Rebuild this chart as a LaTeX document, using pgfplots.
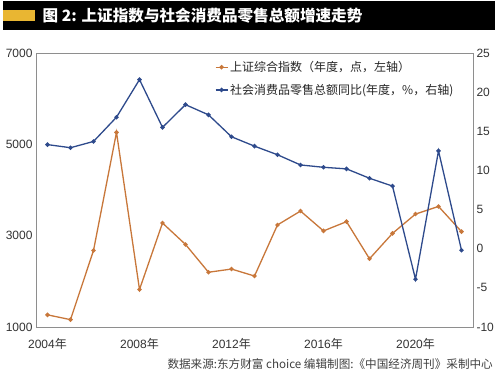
\documentclass[border=0pt]{standalone}
\usepackage{fontspec}
\setmainfont{Liberation Sans}
\newfontfamily\cjk{Noto Sans CJK SC}
\usepackage{pgfplots}
\usepackage{pgfplotstable}
\pgfplotsset{compat=1.18}
\definecolor{corange}{HTML}{C8773A}
\definecolor{cblue}{HTML}{2E4A8C}
\definecolor{axgray}{HTML}{8E8E8E}
\definecolor{cgold}{HTML}{E9B632}

\pgfplotstableread{
year idx
2004 1266
2005 1161
2006 2675
2007 5262
2008 1821
2009 3277
2010 2808
2011 2199
2012 2269
2013 2116
2014 3235
2015 3539
2016 3104
2017 3307
2018 2494
2019 3050
2020 3473
2021 3640
2022 3089
}\shdata

\pgfplotstableread{
year gr
2004 13.3
2005 12.9
2006 13.7
2007 16.8
2008 21.6
2009 15.5
2010 18.4
2011 17.1
2012 14.3
2013 13.1
2014 12.0
2015 10.7
2016 10.4
2017 10.2
2018 9.0
2019 8.0
2020 -3.9
2021 12.5
2022 -0.2
}\rsdata

\begin{document}
\begin{tikzpicture}
\fill[white] (0pt,0pt) rectangle (500pt,377pt);
\fill[black] (3pt,347pt) rectangle (495pt,375.5pt);
\fill[cgold] (3pt,356pt) rectangle (35pt,367pt);
\node[anchor=west,text=white,inner sep=0pt,font=\cjk\bfseries\fontsize{15.6}{18}\selectfont] at (42.5pt,361.5pt) {图 2: 上证指数与社会消费品零售总额增速走势};
\node[anchor=east,inner sep=0pt,text=black!75,font=\cjk\fontsize{11.6}{13}\selectfont] at (493pt,12.5pt) {数据来源:东方财富 choice 编辑制图:《中国经济周刊》采制中心};

\begin{axis}[
  at={(36pt,50pt)}, anchor=south west, scale only axis,
  width=437pt, height=274pt,
  xmin=2003.5, xmax=2022.5, ymin=1000, ymax=7000,
  xtick={2004,2008,2012,2016,2020},
  xticklabels={2004{\cjk 年},2008{\cjk 年},2012{\cjk 年},2016{\cjk 年},2020{\cjk 年}},
  ytick={1000,3000,5000,7000},
  yticklabels={1000,3000,5000,7000},
  xtick pos=bottom, ytick pos=left,
  major tick length=0pt,
  axis line style={axgray, line width=0.8pt},
  tick label style={font=\fontsize{12}{14}\selectfont, text=black!80},
  xticklabel style={yshift=-8pt},
]
\addplot[corange, line width=1.3pt, mark=*, mark size=1.5pt] table[x=year,y=idx] {\shdata};
\end{axis}

\begin{axis}[
  at={(36pt,50pt)}, anchor=south west, scale only axis,
  width=437pt, height=274pt,
  xmin=2003.5, xmax=2022.5, ymin=-10, ymax=25,
  axis y line*=right, axis x line=none,
  ytick={-10,-5,0,5,10,15,20,25},
  yticklabels={-10,-5,0,5,10,15,20,25},
  major tick length=0pt,
  axis line style={axgray, line width=0.8pt},
  tick label style={font=\fontsize{12}{14}\selectfont, text=black!80},
  legend style={at={(0.402,0.985)}, anchor=north west, draw=none, fill=none,
    font=\cjk\fontsize{12}{14}\selectfont, row sep=7pt, text=black!85},
  legend cell align=left,
  legend image code/.code={\draw[mark repeat=2,mark phase=2,#1] plot coordinates {(0pt,0pt)(6pt,0pt)(12pt,0pt)};},
]
\addlegendimage{corange, line width=1.3pt, mark=*, mark size=1.5pt}
\addlegendentry{上证综合指数（年度，点，左轴）}
\addplot[cblue, line width=1.3pt, mark=*, mark size=1.5pt] table[x=year,y=gr] {\rsdata};
\addlegendentry{社会消费品零售总额同比(年度，\%，右轴)}
\end{axis}
\end{tikzpicture}
\end{document}
